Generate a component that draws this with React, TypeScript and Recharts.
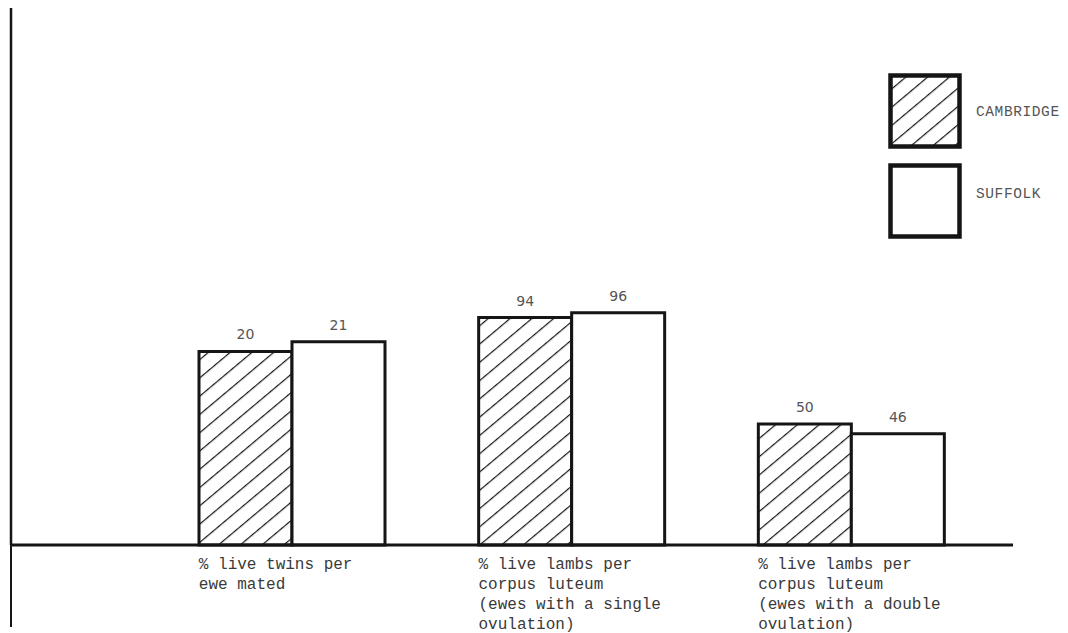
import React from 'react';
import { BarChart, Bar, XAxis, YAxis, LabelList, Legend } from 'recharts';

// values printed above the bars
const categories = ['twins', 'singleOvulation', 'doubleOvulation'];
const cambridgeValues = [20, 94, 50];
const suffolkValues = [21, 96, 46];
// the original draws the first group at four times the scale of the other two
const drawScale = [4, 1, 1];

const categoryLines = [
  ['% live twins per', 'ewe mated'],
  ['% live lambs per', 'corpus luteum', '(ewes with a single', 'ovulation)'],
  ['% live lambs per', 'corpus luteum', '(ewes with a double', 'ovulation)'],
];

const seriesNames = ['CAMBRIDGE', 'SUFFOLK'];

const data = categories.map((c, i) => ({
  category: c,
  cambridge: cambridgeValues[i] * drawScale[i],
  suffolk: suffolkValues[i] * drawScale[i],
  cambridgeLabel: cambridgeValues[i],
  suffolkLabel: suffolkValues[i],
}));

const INK = '#151515';
const BAR_SIZE = 93;

const CategoryTick = (props: any) => {
  const { x, y, payload } = props;
  const lines = categoryLines[payload.index] || [];
  return (
    <text
      x={x - BAR_SIZE}
      y={y}
      fill="#3a3a3a"
      fontSize={16}
      fontFamily="'Liberation Mono', monospace"
    >
      {lines.map((l, i) => (
        <tspan key={i} x={x - BAR_SIZE} dy={i === 0 ? 15.5 : 20}>
          {l}
        </tspan>
      ))}
    </text>
  );
};

const HatchDef = ({ id }: { id: string }) => (
  <defs>
    <pattern id={id} width={14} height={14} patternUnits="userSpaceOnUse" patternTransform="rotate(50)">
      <rect width={14} height={14} fill="#fff" />
      <line x1={0} y1={0} x2={0} y2={14} stroke={INK} strokeWidth={2.4} />
    </pattern>
  </defs>
);

const LegendBoxes = () => (
  <div style={{ position: 'relative', width: 172, height: 180 }}>
    {seriesNames.map((name, i) => (
      <div key={name}>
        <svg
          width={76}
          height={78}
          style={{ position: 'absolute', left: 0, top: i * 90 }}
        >
          <HatchDef id="legendHatch" />
          <rect
            x={2.5}
            y={2.5}
            width={69}
            height={71}
            fill={i === 0 ? 'url(#legendHatch)' : '#fff'}
            stroke={INK}
            strokeWidth={4.5}
          />
        </svg>
        <span
          style={{
            position: 'absolute',
            left: 88,
            top: 31 + i * 82,
            fontFamily: "'Liberation Mono', monospace",
            fontSize: 14.5,
            letterSpacing: 0.6,
            color: '#555',
            whiteSpace: 'nowrap',
          }}
        >
          {name}
        </span>
      </div>
    ))}
  </div>
);

export default function App() {
  return (
    <div style={{ position: 'relative', width: 1052, height: 625, background: '#fff' }}>
      <BarChart
        width={1052}
        height={625}
        data={data}
        margin={{ top: 0, right: 47, left: 2, bottom: 0 }}
        barGap={0}
        barSize={BAR_SIZE}
      >
        <HatchDef id="barHatch" />
        <XAxis
          dataKey="category"
          height={88}
          padding={{ left: 141, right: 22 }}
          tickLine={false}
          axisLine={{ stroke: INK, strokeWidth: 3 }}
          tick={<CategoryTick />}
          interval={0}
        />
        <YAxis
          width={1}
          domain={[0, 222]}
          tick={false}
          tickLine={false}
          axisLine={{ stroke: INK, strokeWidth: 2.5 }}
        />
        <Legend
          layout="horizontal"
          verticalAlign="middle"
          content={<LegendBoxes />}
          wrapperStyle={{ position: 'absolute', left: 880, top: 65, width: 172, height: 180 }}
        />
        <Bar
          dataKey="cambridge"
          name="CAMBRIDGE"
          fill="url(#barHatch)"
          stroke={INK}
          strokeWidth={3}
          isAnimationActive={false}
        >
          <LabelList
            dataKey="cambridgeLabel"
            position="top"
            offset={12}
            fill="#555"
            fontSize={14}
            fontFamily="'DejaVu Sans', sans-serif"
          />
        </Bar>
        <Bar
          dataKey="suffolk"
          name="SUFFOLK"
          fill="#fff"
          stroke={INK}
          strokeWidth={3}
          isAnimationActive={false}
        >
          <LabelList
            dataKey="suffolkLabel"
            position="top"
            offset={12}
            fill="#555"
            fontSize={14}
            fontFamily="'DejaVu Sans', sans-serif"
          />
        </Bar>
      </BarChart>
      {/* the vertical axis runs on below the baseline in the original */}
      <div
        style={{
          position: 'absolute',
          left: 1.75,
          top: 537,
          width: 2.5,
          height: 82,
          background: INK,
        }}
      />
    </div>
  );
}
